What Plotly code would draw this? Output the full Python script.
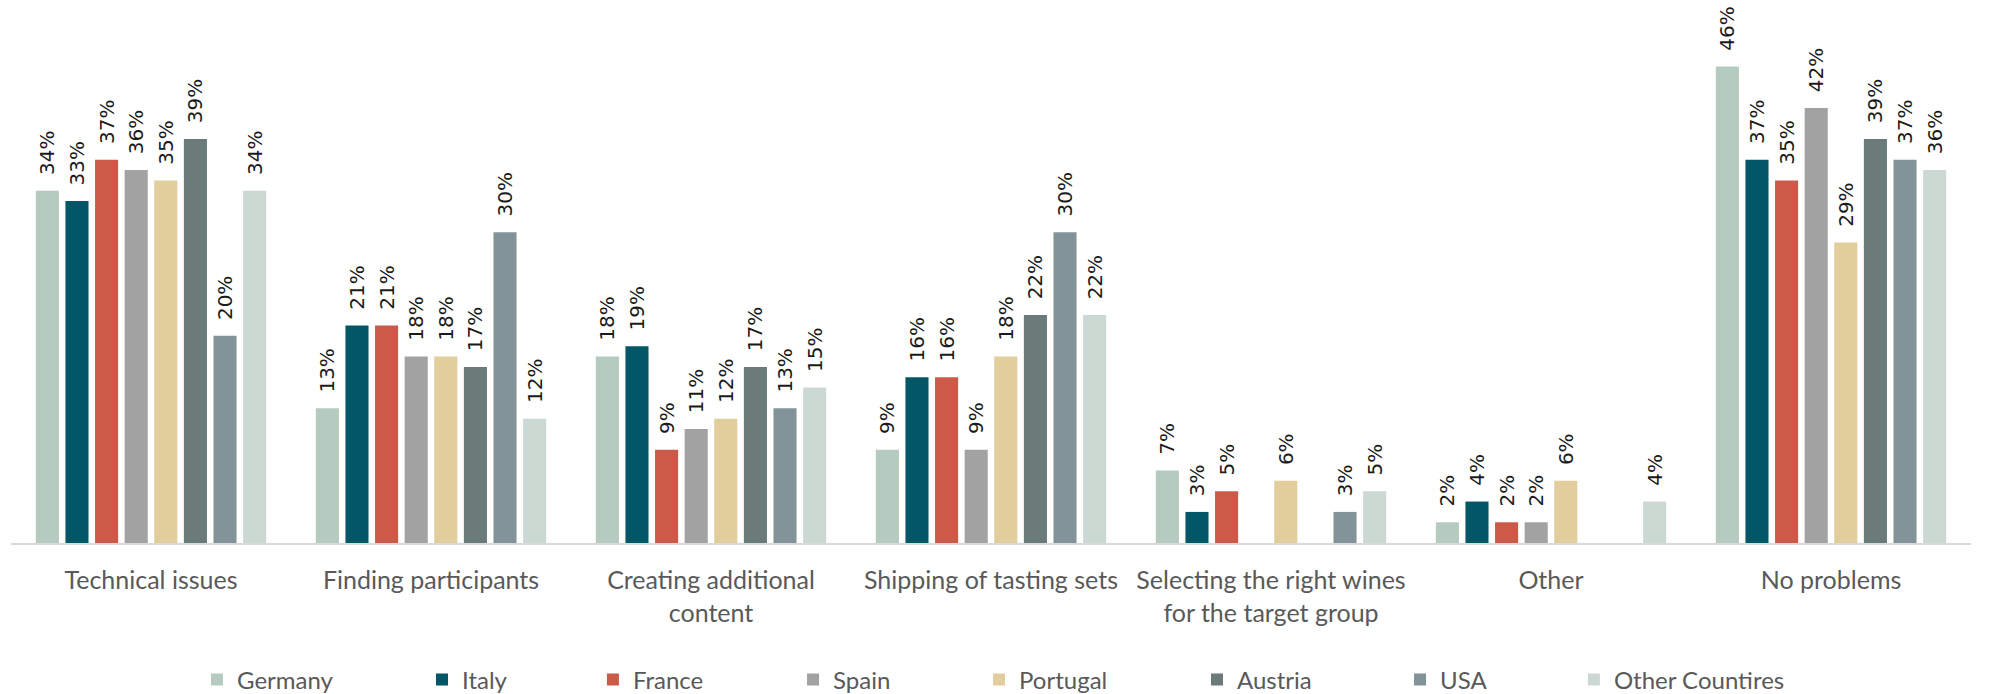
import plotly.graph_objects as go

categories = [
    "Technical issues",
    "Finding participants",
    "Creating additional<br>content",
    "Shipping of tasting sets",
    "Selecting the right wines<br>for the target group",
    "Other",
    "No problems",
]

germany = [34, 13, 18, 9, 7, 2, 46]
italy = [33, 21, 19, 16, 3, 4, 37]
france = [37, 21, 9, 16, 5, 2, 35]
spain = [36, 18, 11, 9, None, 2, 42]
portugal = [35, 18, 12, 18, 6, 6, 29]
austria = [39, 17, 17, 22, None, None, 39]
usa = [20, 30, 13, 30, 3, None, 37]
other_countries = [34, 12, 15, 22, 5, 4, 36]

series = [
    ("Germany", germany, "#b5cbbf"),
    ("Italy", italy, "#035665"),
    ("France", france, "#cc5a48"),
    ("Spain", spain, "#a2a2a2"),
    ("Portugal", portugal, "#e2cd9c"),
    ("Austria", austria, "#6b7b79"),
    ("USA", usa, "#83939a"),
    ("Other Countires", other_countries, "#ccd9d3"),
]

# horizontal position of each legend entry (fraction of the plot width)
legend_x = [0.0949, 0.2097, 0.2969, 0.3990, 0.4939, 0.6051, 0.7087, 0.7974]

PAD = "\u00a0\u00a0"  # small gap between bar top and its rotated label

fig = go.Figure()
for i, (name, values, color) in enumerate(series):
    legend_id = "legend" if i == 0 else f"legend{i + 1}"
    fig.add_trace(go.Bar(
        name=name,
        x=categories,
        y=values,
        legend=legend_id,
        showlegend=True,
        marker=dict(color=color, line=dict(width=0)),
        text=[None if v is None else f"{PAD}{v}%" for v in values],
        textposition="outside",
        textangle=-90,
        constraintext="none",
        cliponaxis=False,
        textfont=dict(family="DejaVu Sans, sans-serif", size=20, color="#1a1a1a"),
    ))
    fig.update_layout({
        legend_id: dict(
            orientation="h",
            x=legend_x[i],
            xanchor="left",
            y=-0.2645,
            yanchor="middle",
            bgcolor="rgba(0,0,0,0)",
            font=dict(family="Lato, sans-serif", size=24, color="#595959"),
        )
    })

fig.update_layout(
    width=1994,
    height=694,
    showlegend=True,
    barmode="group",
    bargap=0.154,
    bargroupgap=0.22,
    plot_bgcolor="#ffffff",
    paper_bgcolor="#ffffff",
    margin=dict(l=11, r=23, t=25, b=151, autoexpand=False),
    font=dict(family="Lato, sans-serif", color="#595959"),
    xaxis=dict(
        showline=True,
        linecolor="#d9d9d9",
        linewidth=2,
        ticks="",
        ticklabelstandoff=14,
        tickfont=dict(size=25, color="#595959"),
        showgrid=False,
        automargin=False,
    ),
    yaxis=dict(
        range=[0, 50],
        visible=False,
        showgrid=False,
        zeroline=False,
        automargin=False,
    ),
)

fig.write_html("out.html")
